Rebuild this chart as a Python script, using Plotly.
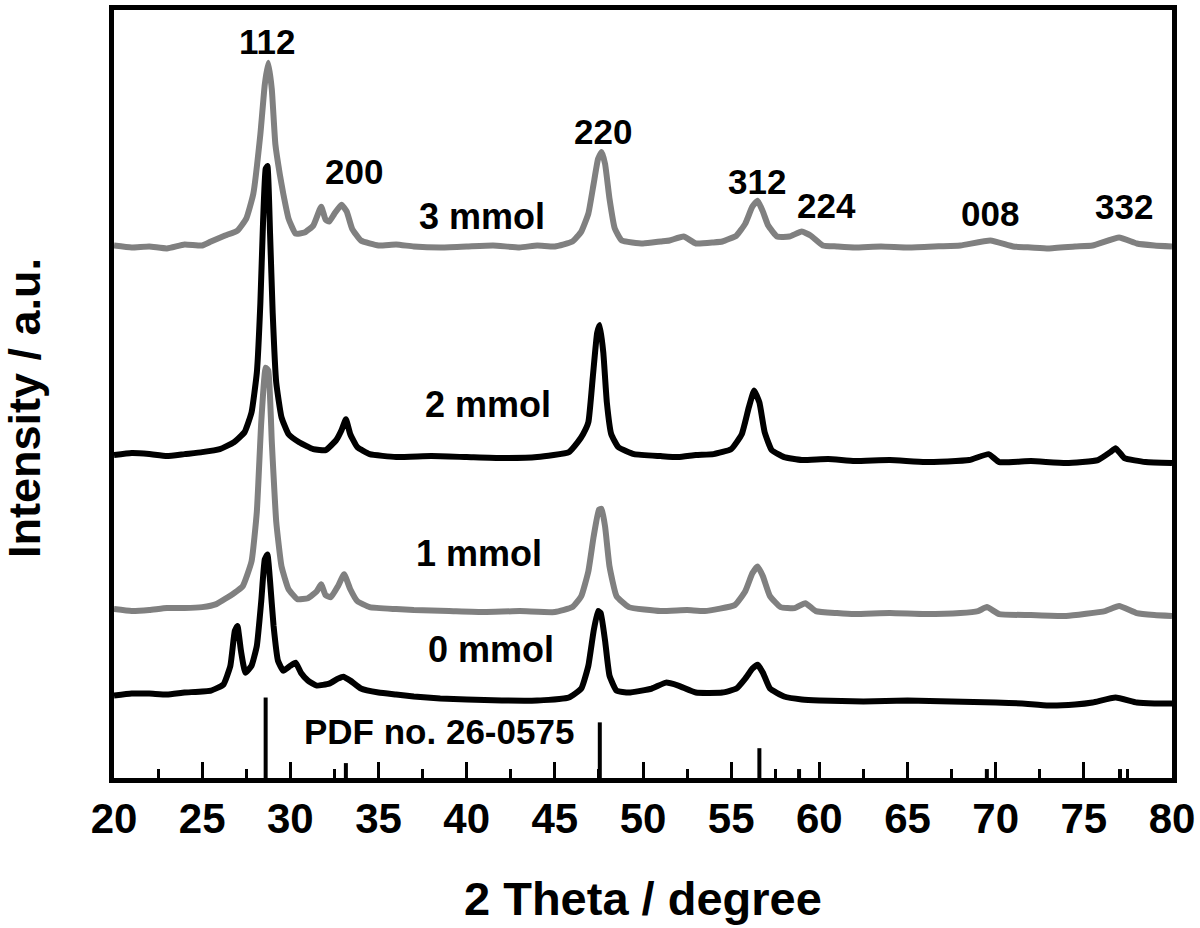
import plotly.graph_objects as go

# ---------------- data (2-theta in degrees, intensity in a.u.) ----------------
x_3mmol = [20.0, 21.0, 22.0, 23.0, 24.0, 25.0, 25.5, 26.3, 27.0, 27.5, 27.9, 28.3, 28.55, 28.75, 28.95, 29.15,
           29.4, 29.6, 29.9, 30.3, 30.8, 31.3, 31.75, 32.0, 32.2, 32.5, 32.9, 33.2, 33.5, 34.0, 35.0, 36.0,
           37.0, 38.5, 40.0, 41.5, 43.0, 44.0, 45.0, 46.0, 46.5, 46.9, 47.2, 47.45, 47.65, 47.85, 48.1, 48.4,
           48.8, 50.0, 51.0, 51.5, 52.3, 53.0, 54.0, 54.5, 55.3, 55.8, 56.2, 56.5, 56.8, 57.1, 57.6, 58.3,
           59.0, 59.5, 60.2, 61.0, 62.0, 63.5, 65.0, 66.5, 68.0, 69.7, 71.0, 72.0, 73.0, 74.5, 75.5, 77.0,
           78.0, 79.0, 80.0]
y_3mmol = [536, 534, 535, 533, 537, 536, 540, 546, 551, 563, 588, 648, 698, 720, 693, 638,
           608, 588, 563, 548, 549, 556, 575, 562, 560, 568, 577, 570, 553, 541, 536, 537,
           535, 534, 535, 536, 534, 536, 535, 540, 550, 568, 598, 623, 630, 618, 583, 553,
           541, 538, 540, 541, 545, 538, 539, 540, 546, 558, 575, 581, 570, 556, 545, 545,
           550, 546, 536, 535, 534, 535, 534, 535, 536, 541, 535, 534, 533, 535, 536, 544,
           538, 536, 535]

x_2mmol = [20.0, 21.0, 22.0, 23.0, 24.0, 25.0, 26.0, 26.8, 27.4, 27.8, 28.1, 28.3, 28.45, 28.6, 28.7, 28.85,
           29.0, 29.2, 29.5, 29.9, 30.5, 31.3, 32.0, 32.6, 32.9, 33.15, 33.4, 33.8, 34.5, 36.0, 38.0, 40.0,
           42.0, 44.0, 45.8, 46.3, 46.6, 46.9, 47.15, 47.4, 47.55, 47.75, 47.95, 48.2, 48.6, 49.5, 51.0, 52.0,
           53.0, 54.0, 55.0, 55.6, 56.0, 56.3, 56.6, 56.9, 57.3, 58.0, 59.0, 60.5, 62.0, 64.0, 66.0, 68.5,
           69.6, 70.2, 72.0, 74.0, 75.8, 76.5, 76.8, 77.3, 78.5, 80.0]
y_2mmol = [325, 327, 326, 324, 326, 328, 331, 338, 348, 368, 408, 478, 558, 613, 616, 548,
           468, 398, 363, 346, 338, 331, 330, 340, 350, 361, 346, 333, 326, 323, 324, 323,
           322, 323, 328, 338, 346, 358, 403, 448, 456, 428, 378, 346, 333, 326, 324, 323,
           325, 326, 331, 346, 373, 390, 378, 348, 330, 323, 320, 321, 319, 320, 318, 320,
           326, 318, 319, 317, 320, 328, 332, 322, 318, 317]

x_1mmol = [20.0, 21.0, 22.0, 23.0, 24.0, 25.0, 25.8, 26.8, 27.3, 27.8, 28.1, 28.35, 28.6, 28.75, 28.95, 29.2,
           29.5, 29.9, 30.4, 31.0, 31.5, 31.75, 32.0, 32.3, 32.7, 33.05, 33.4, 33.8, 34.5, 36.0, 37.0, 39.0,
           41.0, 43.0, 45.0, 46.0, 46.5, 46.9, 47.2, 47.5, 47.65, 47.85, 48.1, 48.5, 49.2, 51.0, 52.5, 53.5,
           55.2, 55.8, 56.2, 56.5, 56.8, 57.2, 57.8, 58.6, 59.2, 59.8, 61.0, 62.0, 64.0, 66.0, 68.0, 69.0,
           69.5, 70.2, 72.0, 74.0, 76.2, 77.0, 78.0, 79.0, 80.0]
y_1mmol = [170, 168, 169, 171, 171, 172, 175, 186, 193, 218, 268, 358, 413, 410, 338, 258,
           213, 190, 180, 181, 188, 195, 184, 182, 193, 205, 190, 178, 172, 170, 169, 168,
           167, 168, 167, 172, 183, 208, 243, 270, 271, 253, 213, 183, 172, 168, 169, 168,
           174, 188, 206, 213, 203, 183, 172, 171, 176, 168, 166, 165, 166, 165, 166, 168,
           172, 165, 164, 163, 168, 173, 166, 164, 163]

x_0mmol = [20.0, 21.0, 22.0, 23.0, 24.0, 25.5, 26.2, 26.6, 26.85, 27.0, 27.2, 27.45, 27.8, 28.1, 28.35, 28.55,
           28.7, 28.85, 29.05, 29.3, 29.6, 30.0, 30.3, 30.6, 31.0, 31.5, 32.2, 32.7, 33.0, 33.4, 34.0, 35.0,
           36.0, 37.0, 38.5, 40.0, 42.0, 44.0, 45.8, 46.5, 46.9, 47.2, 47.45, 47.6, 47.85, 48.1, 48.5, 49.2,
           50.5, 51.3, 52.0, 53.0, 54.5, 55.3, 55.8, 56.2, 56.5, 56.8, 57.2, 58.0, 59.0, 60.0, 62.5, 65.0,
           67.5, 70.0, 71.5, 73.0, 74.5, 75.5, 76.8, 78.0, 79.0, 80.0]
y_0mmol = [83, 85, 85, 84, 86, 88, 94, 113, 148, 153, 128, 106, 113, 133, 178, 220,
           225, 198, 153, 118, 108, 113, 116, 106, 98, 93, 95, 100, 102, 98, 90, 86,
           84, 82, 80, 79, 78, 78, 81, 90, 113, 148, 168, 166, 138, 103, 88, 86,
           90, 96, 93, 86, 86, 90, 100, 110, 114, 106, 90, 82, 79, 78, 77, 78,
           77, 76, 75, 73, 74, 76, 81, 76, 75, 75]

# reference pattern PDF no. 26-0575 (stick positions and relative heights)
pdf_pos = [28.6, 33.15, 47.55, 56.6, 58.85, 69.5, 77.05]
pdf_int = [81, 15, 56, 30, 9, 9, 9]

# labels
hkl_labels = ["112", "200", "220", "312", "224", "008", "332"]
hkl_x = [28.68, 33.6, 47.73, 56.47, 60.38, 69.68, 77.28]
hkl_y = [741, 610, 651, 600, 576, 568, 575]

sample_labels = ["3 mmol", "2 mmol", "1 mmol", "0 mmol"]
sample_x = [40.87, 41.2, 40.7, 41.38]
sample_y = [565, 376, 226, 129]

GREY = "#808080"
BLACK = "#000000"
FONT = "Liberation Sans, Arial, sans-serif"

fig = go.Figure()

series = [(x_3mmol, y_3mmol, GREY, "3 mmol"),
          (x_2mmol, y_2mmol, BLACK, "2 mmol"),
          (x_1mmol, y_1mmol, GREY, "1 mmol"),
          (x_0mmol, y_0mmol, BLACK, "0 mmol")]
for xs, ys, col, name in series:
    fig.add_trace(go.Scatter(x=xs, y=ys, mode="lines", name=name,
                             line=dict(color=col, width=6, shape="spline", smoothing=0.4),
                             showlegend=False))

# PDF sticks
stick_x, stick_y = [], []
for p, h in zip(pdf_pos, pdf_int):
    stick_x += [p, p, None]
    stick_y += [0, h, None]
fig.add_trace(go.Scatter(x=stick_x, y=stick_y, mode="lines", line=dict(color=BLACK, width=4),
                         showlegend=False, name="PDF no. 26-0575"))

annotations = []
for t, xx, yy in zip(hkl_labels, hkl_x, hkl_y):
    annotations.append(dict(x=xx, y=yy, text=t, showarrow=False, xanchor="center", yanchor="middle",
                            font=dict(family=FONT, size=35, color=BLACK, weight="bold")))
for t, xx, yy in zip(sample_labels, sample_x, sample_y):
    annotations.append(dict(x=xx, y=yy, text=t, showarrow=False, xanchor="center", yanchor="middle",
                            font=dict(family=FONT, size=36, color=BLACK, weight="bold")))
annotations.append(dict(x=38.43, y=47, text="PDF no. 26-0575", showarrow=False, xanchor="center",
                        yanchor="middle", font=dict(family=FONT, size=35, color=BLACK, weight="bold")))
# axis titles
annotations.append(dict(xref="paper", yref="paper", x=0.5, y=-0.157, text="2 Theta / degree",
                        showarrow=False, xanchor="center", yanchor="middle",
                        font=dict(family=FONT, size=47, color=BLACK, weight="bold")))
annotations.append(dict(xref="paper", yref="paper", x=-0.084, y=0.482, text="Intensity / a.u.",
                        showarrow=False, xanchor="center", yanchor="middle", textangle=-90,
                        font=dict(family=FONT, size=45, color=BLACK, weight="bold")))

fig.update_layout(
    width=1200, height=928,
    margin=dict(l=114, r=28, t=5, b=150),
    paper_bgcolor="white", plot_bgcolor="white",
    annotations=annotations,
    xaxis=dict(range=[20, 80], dtick=5, tick0=20, ticks="inside", ticklen=16, tickwidth=3,
               tickcolor=BLACK, showline=True, linewidth=5, linecolor=BLACK, mirror=True,
               showgrid=False, zeroline=False,
               tickfont=dict(family=FONT, size=42, color=BLACK, weight="bold"),
               minor=dict(dtick=2.5, ticks="inside", ticklen=9, tickwidth=3, tickcolor=BLACK, showgrid=False)),
    yaxis=dict(range=[0, 773], showticklabels=False, ticks="", showline=True, linewidth=5,
               linecolor=BLACK, mirror=True, showgrid=False, zeroline=False),
)

fig.write_html("out.html", config={"displayModeBar": False},
               post_script="document.body.style.margin='0';")
